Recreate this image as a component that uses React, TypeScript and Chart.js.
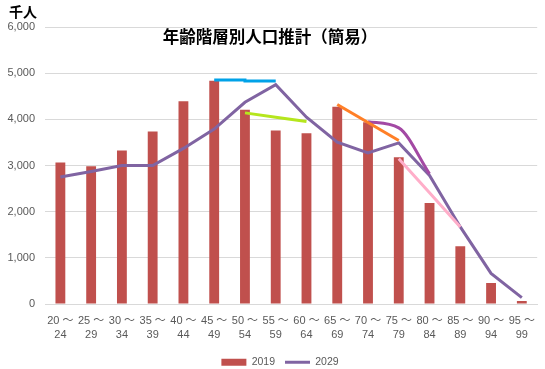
import React, { useEffect, useRef } from "react";
import { Chart, registerables } from "chart.js";

Chart.register(...registerables);

const titleText = "年齢階層別人口推計（簡易）";
const unitText = "千人";

const categories: string[][] = [
  ["20 ～", "24"], ["25 ～", "29"], ["30 ～", "34"], ["35 ～", "39"],
  ["40 ～", "44"], ["45 ～", "49"], ["50 ～", "54"], ["55 ～", "59"],
  ["60 ～", "64"], ["65 ～", "69"], ["70 ～", "74"], ["75 ～", "79"],
  ["80 ～", "84"], ["85 ～", "89"], ["90 ～", "94"], ["95 ～", "99"],
];

const pop2019 = [3065, 2985, 3325, 3735, 4390, 4835, 4210, 3756, 3698, 4274, 3936, 3180, 2187, 1252, 453, 65];
const pop2029 = [2750, 2870, 3000, 3000, 3370, 3790, 4370, 4750, 4045, 3505, 3270, 3490, 2785, 1670, 662, 137];

// hand-drawn annotation strokes
const noteBlue = [null, null, null, null, null, 4850, 4828, 4828, null, null, null, null, null, null, null, null];
const noteLime = [null, null, null, null, null, null, 4140, 4045, 3955, null, null, null, null, null, null, null];
const noteOrange = [null, null, null, null, null, null, null, null, null, 4320, 3930, 3540, null, null, null, null];
const noteMagenta = [null, null, null, null, null, null, null, null, null, null, 3950, 3815, 2820, null, null, null];
const notePink = [null, null, null, null, null, null, null, null, null, null, null, 3145, 2408, 1670, null, null];

const yMin = 0;
const yMax = 6000;
const yStep = 1000;

const BAR = "#C0504D";
const LINE = "#8064A2";
const NUM_FONT = '"Liberation Sans", "Noto Sans CJK JP", sans-serif';
const CJK_FONT = '"Noto Sans CJK JP", sans-serif';

export default function App() {
  const ref = useRef<HTMLCanvasElement>(null);

  useEffect(() => {
    const overlay = {
      id: "overlay",
      afterLayout(chart: any) {
        const lg = chart.legend;
        if (lg) {
          lg.left += 8;
          lg.right += 8;
        }
      },
      afterDraw(chart: any) {
        const ctx = chart.ctx;
        ctx.save();
        ctx.fillStyle = "#000";
        ctx.textBaseline = "middle";
        ctx.font = `bold 16.5px ${CJK_FONT}`;
        ctx.textAlign = "center";
        ctx.fillText(titleText, 270, 37);
        ctx.font = `bold 14px ${CJK_FONT}`;
        ctx.textAlign = "left";
        ctx.fillText(unitText, 9, 12);
        ctx.restore();
      },
    };

    const note = (data: (number | null)[], color: string, extra: any = {}) => ({
      type: "line" as const,
      label: "",
      data,
      borderColor: color,
      backgroundColor: color,
      borderWidth: 3,
      pointRadius: 0,
      tension: 0,
      spanGaps: false,
      order: -1,
      ...extra,
    });

    const chart = new Chart(ref.current!, {
      type: "bar",
      data: {
        labels: categories,
        datasets: [
          {
            type: "bar",
            label: "2019",
            data: pop2019,
            backgroundColor: BAR,
            borderWidth: 0,
            barPercentage: 0.32,
            categoryPercentage: 1,
            order: 2,
          },
          {
            type: "line",
            label: "2029",
            data: pop2029,
            borderColor: LINE,
            backgroundColor: LINE,
            borderWidth: 3,
            pointRadius: 0,
            tension: 0,
            order: 1,
          },
          note(noteBlue, "#00A2E8", { stepped: "before" }),
          note(noteLime, "#B5E61D"),
          note(noteOrange, "#FF7F27"),
          note(noteMagenta, "#A349A4", { cubicInterpolationMode: "monotone" }),
          note(notePink, "#FFAEC9"),
        ] as any,
      },
      options: {
        responsive: false,
        animation: false,
        devicePixelRatio: 1,
        layout: { padding: { top: 27, right: 1, left: 0, bottom: 0 } },
        plugins: {
          title: { display: false },
          tooltip: { enabled: false },
          legend: {
            position: "bottom",
            maxHeight: 22,
            labels: {
              usePointStyle: true,
              pointStyleWidth: 25,
              boxHeight: 7,
              padding: 10,
              color: "#595959",
              font: { size: 10.5, family: NUM_FONT },
              generateLabels: (c: any) =>
                [0, 1].map((i) => {
                  const ds = c.data.datasets[i];
                  const isLine = ds.type === "line";
                  return {
                    text: ds.label,
                    fillStyle: isLine ? ds.borderColor : ds.backgroundColor,
                    strokeStyle: isLine ? ds.borderColor : ds.backgroundColor,
                    lineWidth: isLine ? 3 : 0,
                    pointStyle: isLine ? "line" : "rect",
                    hidden: false,
                    datasetIndex: i,
                    fontColor: "#595959",
                  };
                }),
            },
          },
        },
        scales: {
          x: {
            grid: { display: false, drawTicks: false },
            border: { display: true, color: "#D9D9D9" },
            afterFit: (s: any) => {
              s.height = 43;
            },
            ticks: {
              color: "#595959",
              font: { size: 11, family: NUM_FONT, lineHeight: 1.27 },
              padding: 10,
              maxRotation: 0,
              autoSkip: false,
            },
          },
          y: {
            min: yMin,
            max: yMax,
            grid: { color: "#D9D9D9", drawTicks: false },
            border: { display: false },
            afterFit: (s: any) => {
              s.width = 45;
            },
            ticks: {
              stepSize: yStep,
              color: "#595959",
              font: { size: 11, family: NUM_FONT },
              padding: 10,
              callback: (v: any) => Number(v).toLocaleString("en-US"),
            },
          },
        },
      },
      plugins: [overlay],
    } as any);

    return () => chart.destroy();
  }, []);

  return (
    <div style={{ position: "fixed", left: 0, top: 0, width: 545, height: 369, background: "#fff" }}>
      <canvas ref={ref} width={545} height={369} style={{ display: "block" }} />
    </div>
  );
}
